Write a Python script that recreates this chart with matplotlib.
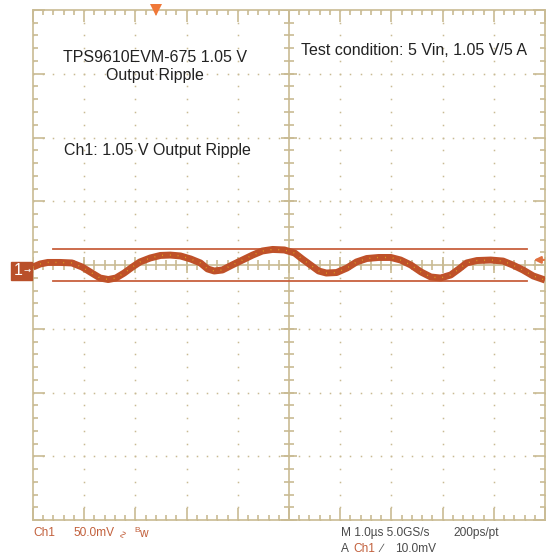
import matplotlib.pyplot as plt
from matplotlib.patches import Rectangle
import numpy as np

# scope settings: 1 us/div, 50 mV/div, 10 x 8 divisions
t_div = 1.0
v_div = 50.0

# Ch1 ripple trace (time in us, voltage in mV)
t_us = [-5.0, -4.86, -4.71, -4.47, -4.24, -4.04, -3.85, -3.69, -3.53, -3.38,
        -3.22, -3.06, -2.91, -2.71, -2.51, -2.32, -2.12, -1.92, -1.73, -1.59,
        -1.46, -1.30, -1.11, -0.91, -0.71, -0.52, -0.32, -0.09, 0.11, 0.26,
        0.42, 0.58, 0.73, 0.93, 1.13, 1.32, 1.52, 1.75, 1.99, 2.18,
        2.38, 2.58, 2.77, 2.96, 3.16, 3.32, 3.47, 3.67, 3.94, 4.18,
        4.37, 4.57, 4.77, 5.0]
v_mv = [-1.6, 0.8, 2.0, 2.0, 1.6, -1.6, -6.3, -10.2, -11.4, -10.2,
        -6.3, -1.6, 2.4, 5.5, 7.5, 7.8, 7.1, 4.7, 1.6, -3.1,
        -4.7, -3.9, 0.0, 3.9, 7.8, 11.0, 12.2, 11.8, 9.4, 4.7,
        0.0, -4.7, -6.3, -5.9, -2.4, 2.4, 5.1, 5.9, 5.9, 3.9,
        0.0, -5.5, -9.4, -10.2, -7.8, -3.1, 1.6, 3.5, 3.9, 3.1,
        0.0, -3.9, -8.6, -11.8]

cursor_mv = [12.5, -12.3]
cursor_span = [-4.61, 4.65]
trig_pos_us = -2.6
trig_level_mv = 4.0
ch1_ref_mv = -4.5

grid_col = '#C9BB93'
trace_col = '#BF5129'
label_col = '#C2603C'
text_col = '#4A4A4A'

fig = plt.figure(figsize=(5.46, 5.6), dpi=100)
ax = fig.add_axes([33/546, 40/560, 512/546, 510/560])
ax.set_xlim(-5*t_div, 5*t_div)
ax.set_ylim(-4*v_div, 4*v_div)

for s in ax.spines.values():
    s.set_color(grid_col)
    s.set_linewidth(1.2)

ax.set_xticks(np.arange(-5, 6) * t_div)
ax.set_xticks(np.arange(-5, 5.01, 0.2) * t_div, minor=True)
ax.set_yticks(np.arange(-4, 5) * v_div)
ax.set_yticks(np.arange(-4, 4.01, 0.2) * v_div, minor=True)
ax.tick_params(which='both', direction='in', top=True, right=True,
               labelbottom=False, labelleft=False, color=grid_col, width=1.2)
ax.tick_params(which='major', length=8.6)
ax.tick_params(which='minor', length=3.6)

# dotted graticule
minor_x = np.arange(-5, 5.01, 0.2) * t_div
minor_y = np.arange(-4, 4.01, 0.2) * v_div
for k in range(-4, 5):
    if k != 0:
        ax.plot(minor_x, np.full_like(minor_x, k*v_div), ls='', marker='s',
                ms=1.1, mew=0, color=grid_col)
for k in range(-5, 6):
    if k != 0:
        ax.plot(np.full_like(minor_y, k*t_div), minor_y, ls='', marker='s',
                ms=1.1, mew=0, color=grid_col)

# center cross with tick marks
ax.axhline(0, color=grid_col, lw=1.2)
ax.axvline(0, color=grid_col, lw=1.2)
ax.plot(minor_x, np.zeros_like(minor_x), ls='', marker='|', ms=7, mew=1.2, color=grid_col)
ax.plot(np.zeros_like(minor_y), minor_y, ls='', marker='_', ms=7, mew=1.2, color=grid_col)
major_x = np.arange(-5, 6) * t_div
major_y = np.arange(-4, 5) * v_div
ax.plot(major_x, np.zeros_like(major_x), ls='', marker='|', ms=11, mew=1.2, color=grid_col)
ax.plot(np.zeros_like(major_y), major_y, ls='', marker='_', ms=11, mew=1.2, color=grid_col)

# cursors
for c in cursor_mv:
    ax.plot(cursor_span, [c, c], color='#C8603E', lw=1.3)

# trace
ax.plot(t_us, v_mv, color=trace_col, lw=5.0, solid_capstyle='butt', zorder=5)
ax.plot(t_us, v_mv, color='#E6C020', lw=1.0, dashes=(0.6, 5), alpha=0.8, zorder=6)

# trigger markers
ax.plot([trig_pos_us], [4*v_div], marker='v', ms=9, color='#F07838', mew=0,
        clip_on=False, zorder=7)
ax.annotate('', xy=(4.78*t_div, trig_level_mv), xytext=(4.98*t_div, trig_level_mv),
            arrowprops=dict(arrowstyle='-|>', color='#E07040', lw=1.6,
                            mutation_scale=10, shrinkA=0, shrinkB=0),
            annotation_clip=False, zorder=7)

# channel 1 ground marker
y_ref = ax.transData.transform((0, ch1_ref_mv))[1] / 560.0
fig.patches.append(Rectangle((11/546, y_ref - 9/560), 21/546, 18/560,
                             transform=fig.transFigure, color='#B9502A'))
fig.text(18/546, y_ref, '1', color='white', fontsize=11.5, ha='center', va='center',
         family=['Liberation Sans', 'DejaVu Sans'])
fig.text(27/546, y_ref, '\u2192', color='white', fontsize=6, ha='center', va='center')

# annotations
txt = dict(fontsize=11.5, color='#222222', family=['Liberation Sans', 'DejaVu Sans'])
ax.text(-2.62, 163, 'TPS9610EVM-675 1.05 V', ha='center', va='center', **txt)
ax.text(-2.62, 149, 'Output Ripple', ha='center', va='center', **txt)
ax.text(0.23, 168.5, 'Test condition: 5 Vin, 1.05 V/5 A', ha='left', va='center', **txt)
ax.text(-4.39, 90, 'Ch1: 1.05 V Output Ripple', ha='left', va='center', **txt)

# status line
st = dict(fontsize=8.6, family=['Liberation Sans', 'DejaVu Sans'], va='center')
fig.text(33/546, 1 - 533/560, 'Ch1', color=label_col, **st)
fig.text(73/546, 1 - 533/560, '50.0mV', color=label_col, **st)
fig.text(118/546, 1 - 533/560, '\u223F', color=label_col, fontsize=7.5,
         family='DejaVu Sans', va='center', rotation=90)
fig.text(134/546, 1 - 530/560, 'B', color=label_col, fontsize=6,
         family=['Liberation Sans', 'DejaVu Sans'], va='center')
fig.text(139/546, 1 - 534/560, 'w', color=label_col, **st)
fig.text(341/546, 1 - 533/560, 'M 1.0\u00b5s 5.0GS/s', color=text_col, **st)
fig.text(453/546, 1 - 533/560, '200ps/pt', color=text_col, **st)
fig.text(341/546, 1 - 549/560, 'A', color=text_col, **st)
fig.text(353/546, 1 - 549/560, 'Ch1', color=label_col, **st)
fig.text(380/546, 1 - 549/560, '\u2215', color=text_col, **st)
fig.text(395/546, 1 - 549/560, '10.0mV', color=text_col, **st)

fig.savefig('out.png', dpi=100)
